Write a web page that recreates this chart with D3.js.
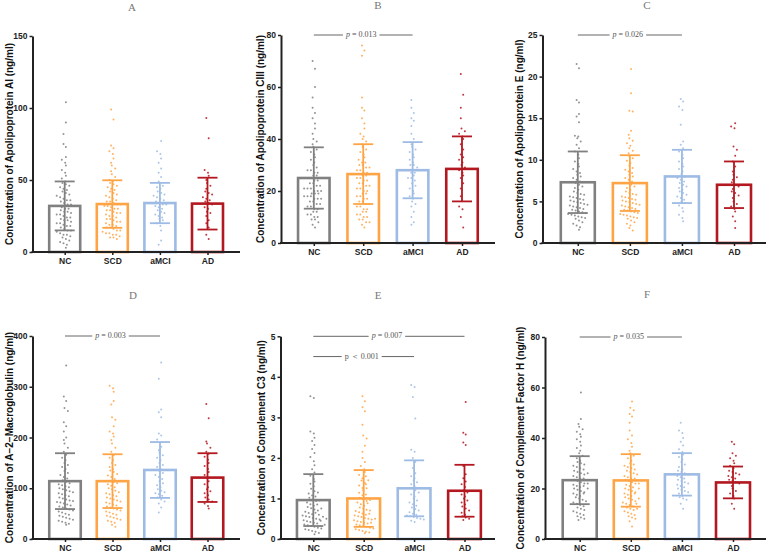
<!DOCTYPE html>
<html><head><meta charset="utf-8">
<script src="https://cdn.jsdelivr.net/npm/d3@7"></script>
<style>body{margin:0;background:#fff}svg{display:block}</style>
</head><body>
<svg id="c" width="771" height="557"></svg>
<script>
const groups = ["NC","SCD","aMCI","AD"];
const letters = ["A","B","C","D","E","F"];
const yTitles = [
  "Concentration of Apolipoprotein AI (ng/ml)",
  "Concentration of Apolipoprotein CIII (ng/ml)",
  "Concentration of Apolipoprotein E (ng/ml)",
  "Concentration of A\u22122\u2212Macroglobulin (ng/ml)",
  "Concentration of Complement C3 (ng/ml)",
  "Concentration of Complement Factor H (ng/ml)"
];
const ticksA = [0,50,100,150], ticksB = [0,20,40,60,80], ticksC = [0,5,10,15,20,25];
const ticksD = [0,100,200,300,400], ticksE = [0,1,2,3,4,5], ticksF = [0,20,40,60,80];

const meansA = [32,33.3,34,33.6],   sdA = [17,16.5,14,18];
const meansB = [25,26.5,28,28.5],   sdB = [11.8,11.5,10.8,12.5];
const meansC = [7.3,7.2,8.0,7.0],   sdC = [3.7,3.35,3.2,2.8];
const meansD = [114,114,136,121],   sdD = [55,53,55,48];
const meansE = [0.96,1.0,1.25,1.19],sdE = [0.64,0.7,0.69,0.64];
const meansF = [23.3,23.2,25.6,22.4],sdF = [9.5,10.4,8.4,6.3];

const ptsA_NC = [104,90,82,75,73,66,64,62,60,57,55,53,51,49,48,47,46,45,44,43,42,41,40,39,38,37,36,36,35,34,33,33,32,31,30,30,29,28,28,27,26,26,25,24,24,23,22,22,21,20,20,19,18,18,17,16,15,15,14,13,12,12,11,10,9,8,7,6,5,3];
const ptsA_SCD = [99,92,74,72,70,68,65,62,60,58,56,54,52,50,49,48,47,46,45,44,43,42,41,40,39,38,37,36,35,35,34,33,33,32,32,31,30,30,29,29,28,27,27,26,25,25,24,23,23,22,21,21,20,19,19,18,17,17,16,15,15,14,13,13,12,12,11,10,10,9];
const ptsA_aMCI = [77,70,68,65,62,58,55,52,49,48,46,45,44,42,41,40,39,38,37,36,35,34,33,33,32,31,30,29,28,27,26,25,24,23,22,20,18,15,8,5];
const ptsA_AD = [93,79,57,55,53,50,48,46,44,42,41,40,38,37,36,35,34,33,31,30,28,27,25,22,20,17,12,9];

const ptsB_NC = [70,67,60,56,52,50,48,46,44,42,40,39,38,37,36,35,34,33,32,31,30,29,28,28,27,27,26,26,25,25,24,24,23,23,22,22,21,21,21,20,20,20,19,19,19,18,18,18,17,17,17,16,16,15,15,14,14,13,13,12,12,11,11,10,10,9,9,8,7,6];
const ptsB_SCD = [76,74,72,56,52,51,48,46,44,42,41,40,39,38,37,36,35,34,33,32,31,31,30,30,29,29,28,28,27,27,26,26,25,25,24,24,23,23,22,22,21,21,20,20,19,19,18,18,17,17,16,16,15,15,14,14,13,13,12,12,11,11,10,10,9,9,8,8,7,6];
const ptsB_aMCI = [55,52,50,48,47,45,42,40,38,37,36,35,34,33,32,31,30,30,29,28,27,27,26,25,25,24,23,22,21,20,19,18,17,16,15,14,12,10,8,7];
const ptsB_AD = [65,57,52,48,44,43,42,41,40,38,36,34,33,32,31,30,29,28,27,26,25,23,21,18,14,13,10,6];

const ptsC_NC = [21.5,21,17.2,16.9,15.5,15.2,14.5,12.9,12.8,12.6,12.2,11.8,11.4,11,10.6,10.2,9.8,9.5,9.2,8.9,8.6,8.4,8.2,8,7.8,7.6,7.4,7.2,7,6.8,6.6,6.4,6.2,6,5.9,5.8,5.6,5.5,5.4,5.3,5.2,5.1,5,4.9,4.8,4.7,4.6,4.5,4.4,4.3,4.2,4.1,4,3.9,3.8,3.7,3.6,3.5,3.4,3.3,3.2,3.1,3,2.9,2.7,2.5,2.3,2.1,1.9,1.6];
const ptsC_SCD = [20.9,18,15.9,15.8,13.5,13,12.6,12.3,12,11.7,11.4,11.1,10.8,10.5,10.2,9.9,9.6,9.3,9,8.8,8.6,8.4,8.2,8,7.8,7.6,7.4,7.2,7,6.8,6.6,6.4,6.2,6,5.9,5.8,5.6,5.5,5.4,5.3,5.2,5.1,5,4.9,4.8,4.7,4.6,4.5,4.4,4.3,4.2,4.1,4,3.9,3.8,3.7,3.6,3.5,3.4,3.3,3.2,3.1,3,2.9,2.7,2.5,2.3,2.1,1.8,1.5];
const ptsC_aMCI = [17.3,17,16.4,16,14.2,12.2,11.8,11.4,11,10.6,10.2,9.8,9.5,9.2,8.9,8.6,8.3,8,7.8,7.6,7.4,7.2,7,6.8,6.6,6.4,6.2,6,5.8,5.6,5.4,5.2,5,4.8,4.5,4.2,3.8,3.4,3,2.6];
const ptsC_AD = [14.4,14,13.8,11.6,11.2,10.5,9.8,9.2,8.6,8.2,7.9,7.6,7.3,7,6.8,6.5,6.2,6,5.7,5.4,5,4.7,4.4,4.1,3.8,3.2,2.6,1.8];

const ptsD_NC = [342,281,272,258,252,230,222,212,200,195,188,180,172,166,160,155,150,146,142,138,134,130,126,122,119,116,113,110,108,106,104,102,100,98,96,94,92,90,88,86,84,82,80,78,76,75,73,72,70,68,66,64,62,60,58,56,54,52,50,48,46,44,42,40,38,36,34,32,30,28];
const ptsD_SCD = [302,297,290,272,265,240,235,222,212,208,202,195,188,180,172,165,160,155,150,146,142,138,135,132,128,125,122,118,115,112,110,108,105,102,100,98,95,92,90,88,86,84,82,80,78,76,74,72,70,68,66,64,62,60,58,56,54,52,50,48,46,44,42,40,38,36,34,32,28,24];
const ptsD_aMCI = [348,316,255,250,240,208,204,196,190,182,175,170,165,160,155,150,146,142,138,134,130,126,122,118,114,110,106,102,98,95,92,90,88,85,82,78,74,70,62,52];
const ptsD_AD = [266,238,192,188,180,172,168,162,156,150,144,138,132,126,120,114,108,102,98,94,90,86,82,78,74,70,65,60];

const ptsE_NC = [3.52,3.48,2.65,2.6,2.5,2.42,2.32,2.22,2.12,2.02,1.92,1.82,1.72,1.64,1.56,1.48,1.42,1.36,1.3,1.24,1.18,1.12,1.07,1.02,0.98,0.94,0.9,0.86,0.82,0.79,0.76,0.73,0.7,0.67,0.64,0.61,0.58,0.56,0.54,0.52,0.5,0.48,0.46,0.44,0.42,0.4,0.38,0.36,0.34,0.32,0.3,0.28,0.26,0.24,0.22,0.2,0.18,0.15,0.12,0.95,0.85,0.75,0.65,0.55,1.15,1.05,0.6,0.5,0.45,0.35];
const ptsE_SCD = [3.52,3.4,3.25,3.15,2.82,2.55,2.48,2.3,2.15,2.0,1.9,1.8,1.72,1.65,1.58,1.5,1.44,1.38,1.32,1.26,1.2,1.14,1.08,1.02,0.98,0.94,0.9,0.86,0.82,0.78,0.75,0.72,0.69,0.66,0.63,0.6,0.58,0.56,0.54,0.52,0.5,0.48,0.46,0.44,0.42,0.4,0.38,0.36,0.34,0.32,0.3,0.28,0.26,0.24,0.22,0.2,0.18,0.16,0.14,1.55,1.45,1.35,1.25,1.1,0.96,0.88,0.7,0.62,0.5,0.4];
const ptsE_aMCI = [3.8,3.75,3.5,2.97,2.2,2.15,2.0,1.9,1.75,1.62,1.55,1.5,1.45,1.4,1.35,1.3,1.25,1.2,1.15,1.1,1.05,1.0,0.95,0.9,0.86,0.82,0.78,0.74,0.7,0.66,0.62,0.6,0.58,0.56,0.54,0.52,0.5,0.48,0.45,0.42];
const ptsE_AD = [3.38,2.62,2.58,2.38,2.32,1.8,1.6,1.5,1.42,1.35,1.28,1.2,1.15,1.1,1.05,1.0,0.95,0.9,0.85,0.8,0.75,0.7,0.65,0.6,0.56,0.53,0.5,0.47];

const ptsF_NC = [58,47.5,45.5,44.5,43.5,42.5,41.5,40.5,39.5,38.5,37,36,35,34,33,32,31,30.5,30,29.5,29,28.5,28,27.5,27,26.5,26,25.5,25,24.5,24,23.5,23,22.5,22,21.5,21,20.5,20,19.5,19,18.5,18,17.5,17,16.5,16,15.5,15,14.5,14,13.5,13,12.5,12,11.5,11,10.5,10,9.5,9,8.5,8,7.5,24,22,20,18,26,21];
const ptsF_SCD = [54.5,52,51,49.5,48.5,46,43,41,39.5,38,36.5,35,34,33,32,31,30,29.5,29,28.5,28,27.5,27,26.5,26,25.5,25,24.5,24,23.5,23,22.5,22,21.5,21,20.5,20,19.5,19,18.5,18,17.5,17,16.5,16,15.5,15,14.5,14,13.5,13,12.5,12,11.5,11,10.5,10,9.5,9,8.5,8,7,5,22,20,18,16,24,14,12];
const ptsF_aMCI = [46,43,42,40,38.5,37,35.5,34.5,33.5,32.5,31.5,30.5,29.5,28.5,27.5,27,26.5,26,25.5,25,24.5,24,23.5,23,22.5,22,21.5,21,20.5,20,19.5,19,18.5,18,17,16.5,16,15.5,14,12];
const ptsF_AD = [38.5,37.5,34,33,32,31,30,29,28,27,26.5,26,25.5,25,24.5,24,23.5,23,22.5,22,21,20,19,18,17,16,14,12];

// significance annotations
const sigPanel = [1,2,3,4,4,5];
const sigFrom  = ["NC","NC","NC","NC","NC","NC"];
const sigTo    = ["aMCI","aMCI","aMCI","AD","aMCI","aMCI"];
const sigLevel = [80,25,400,5,4.5,80];
const sigLabel = ["p = 0.013","p = 0.026","p = 0.003","p = 0.007","p < 0.001","p = 0.035"];

const panels = [
  {ticks:ticksA, means:meansA, sd:sdA, pts:[ptsA_NC,ptsA_SCD,ptsA_aMCI,ptsA_AD]},
  {ticks:ticksB, means:meansB, sd:sdB, pts:[ptsB_NC,ptsB_SCD,ptsB_aMCI,ptsB_AD]},
  {ticks:ticksC, means:meansC, sd:sdC, pts:[ptsC_NC,ptsC_SCD,ptsC_aMCI,ptsC_AD]},
  {ticks:ticksD, means:meansD, sd:sdD, pts:[ptsD_NC,ptsD_SCD,ptsD_aMCI,ptsD_AD]},
  {ticks:ticksE, means:meansE, sd:sdE, pts:[ptsE_NC,ptsE_SCD,ptsE_aMCI,ptsE_AD]},
  {ticks:ticksF, means:meansF, sd:sdF, pts:[ptsF_NC,ptsF_SCD,ptsF_aMCI,ptsF_AD]}
];

// layout (pixel geometry, styling)
const colors = ["#808080","#ffa445","#9dbbe4","#b3171f"];
const layout = [
  {x0:32.5, x1:240, yTop:36,  yBase:252, c0:64.7, c3:207.5, bw:31,   lx:10,  tx:132, ty:8},
  {x0:281,  x1:495, yTop:35,  yBase:243, c0:313.8,c3:462,   bw:31.5, lx:261, tx:378, ty:6},
  {x0:542.5,x1:766, yTop:35,  yBase:243, c0:577.8,c3:734,   bw:34,   lx:520, tx:647, ty:6},
  {x0:32.5, x1:240, yTop:336, yBase:539, c0:65,   c3:207.5, bw:31.5, lx:10,  tx:133, ty:296},
  {x0:280.5,x1:495, yTop:336.3,yBase:539,c0:313.3,c3:464.5, bw:32.7, lx:262, tx:378, ty:296},
  {x0:545,  x1:766, yTop:337, yBase:539, c0:579.7,c3:733,   bw:34,   lx:521, tx:647, ty:295}
];

const svg = d3.select("#c");
const sans = "'Liberation Sans', Arial, sans-serif";
const serif = "'Liberation Serif', 'Times New Roman', serif";

function swarm(vals, y, cx, halfW){
  const bins = d3.group(vals, v => Math.round(y(v)/4.5));
  const out = [];
  for (const [k, arr] of bins){
    const n = arr.length;
    const sp = Math.min(3.4, n > 1 ? (2*halfW)/(n-1) : 3.4);
    arr.forEach((v,i)=>{ out.push({v, x: cx + (i-(n-1)/2)*sp + ((k%2)?1.2:-1.2)}); });
  }
  return out;
}

panels.forEach((p,i)=>{
  const L = layout[i];
  const g = svg.append("g");
  const y = d3.scaleLinear().domain([0, p.ticks[p.ticks.length-1]]).range([L.yBase, L.yTop]);
  const x = d3.scalePoint().domain(groups).range([L.c0, L.c3]);

  g.append("text").attr("x", L.tx).attr("y", L.ty).attr("text-anchor","middle")
    .attr("dominant-baseline","middle").attr("font-family", serif).attr("font-size", 11)
    .attr("fill","#777").text(letters[i]);

  g.selectAll("rect.bar").data(groups).join("rect").attr("class","bar")
    .attr("x", d => x(d) - L.bw/2)
    .attr("y", (d,j) => y(p.means[j]))
    .attr("width", L.bw)
    .attr("height", (d,j) => L.yBase - y(p.means[j]))
    .attr("fill","#fff").attr("stroke",(d,j)=>colors[j]).attr("stroke-width",2.6);

  groups.forEach((gr,j)=>{
    const sw = swarm(p.pts[j], y, x(gr), 12);
    g.append("g").selectAll("circle").data(sw).join("circle")
      .attr("cx", d=>d.x).attr("cy", d=>y(d.v)).attr("r", 1.0)
      .attr("fill", colors[j]).attr("opacity", 0.85);
  });

  groups.forEach((gr,j)=>{
    const cx = x(gr), lo = y(p.means[j]-p.sd[j]), hi = y(p.means[j]+p.sd[j]);
    const eg = g.append("g").attr("stroke", colors[j]).attr("stroke-width", 1.8);
    eg.append("line").attr("x1",cx).attr("x2",cx).attr("y1",lo).attr("y2",hi);
    eg.append("line").attr("x1",cx-10).attr("x2",cx+10).attr("y1",lo).attr("y2",lo);
    eg.append("line").attr("x1",cx-10).attr("x2",cx+10).attr("y1",hi).attr("y2",hi);
  });

  const ya = g.append("g").attr("transform",`translate(${L.x0},0)`)
    .call(d3.axisLeft(y).tickValues(p.ticks).tickFormat(d => String(d)).tickSize(3).tickSizeOuter(0).tickPadding(2));
  ya.select(".domain").attr("stroke","#222").attr("stroke-width",2);
  ya.selectAll(".tick line").attr("stroke","#222").attr("stroke-width",1.5);
  ya.selectAll(".tick text").attr("font-family",sans).attr("font-weight","bold")
    .attr("font-size",8.5).attr("fill","#222");

  g.append("line").attr("x1",L.x0-1).attr("x2",L.x1).attr("y1",L.yBase).attr("y2",L.yBase)
    .attr("stroke","#222").attr("stroke-width",2);
  const xa = g.append("g").attr("transform",`translate(0,${L.yBase})`)
    .call(d3.axisBottom(x).tickSize(3).tickPadding(3));
  xa.select(".domain").remove();
  xa.selectAll(".tick line").attr("stroke","#222").attr("stroke-width",1.5);
  xa.selectAll(".tick text").attr("font-family",sans).attr("font-weight","bold")
    .attr("font-size",8.5).attr("fill","#222");

  g.append("text").attr("transform",`translate(${L.lx},${(L.yTop+L.yBase)/2}) rotate(-90)`)
    .attr("text-anchor","middle").attr("dominant-baseline","middle")
    .attr("font-family",sans).attr("font-weight","bold").attr("font-size",10)
    .attr("fill","#111").text(yTitles[i]);

  sigPanel.forEach((pi,k)=>{
    if (pi !== i) return;
    const xa1 = x(sigFrom[k]), xa2 = x(sigTo[k]), yy = y(sigLevel[k]), mid = (xa1+xa2)/2 - 2;
    const t = g.append("text").attr("x",mid).attr("y",yy).attr("text-anchor","middle")
      .attr("dominant-baseline","middle").attr("font-family",serif).attr("font-size",8)
      .attr("fill","#555");
    const parts = sigLabel[k].split(" ");
    t.append("tspan").attr("font-style", parts[1]==="<" ? "normal" : "italic").text(parts[0]);
    t.append("tspan").text(parts[1]==="<" ? " \uFF1C " : " = ");
    t.append("tspan").text(parts[2]);
    const w = t.node().getComputedTextLength();
    const lg = g.append("g").attr("stroke","#666").attr("stroke-width",1);
    lg.append("line").attr("x1",xa1).attr("x2",mid-w/2-3).attr("y1",yy).attr("y2",yy);
    lg.append("line").attr("x1",mid+w/2+3).attr("x2",xa2).attr("y1",yy).attr("y2",yy);
  });
});
</script>
</body></html>
